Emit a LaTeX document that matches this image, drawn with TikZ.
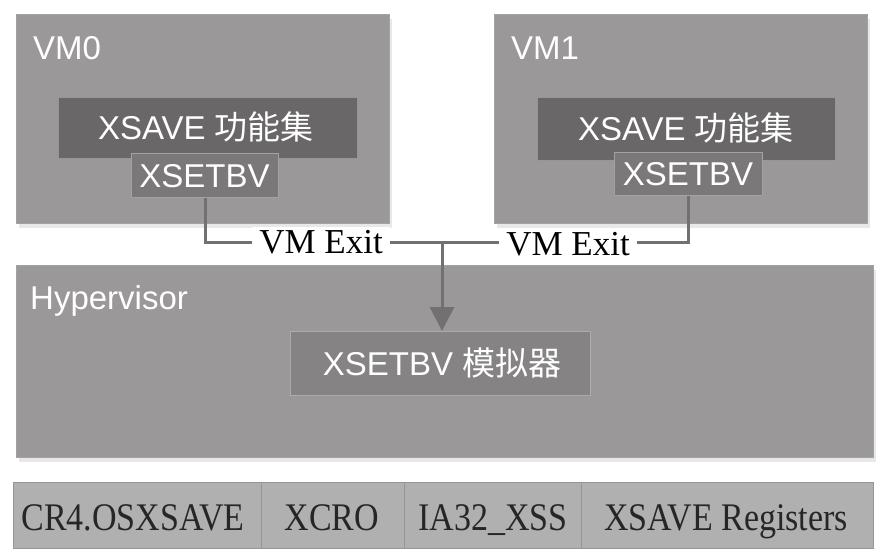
\documentclass[tikz,border=0pt]{standalone}
\usepackage{fontspec}
\setmainfont{Liberation Serif}
\newfontfamily\sansf{Liberation Sans}
\newfontfamily\cjkf{Noto Sans CJK SC}
\usetikzlibrary{arrows.meta,shadows}
\definecolor{vmgray}{HTML}{9A9899}
\definecolor{darkgray2}{HTML}{6A6768}
\definecolor{setgray}{HTML}{7A7879}
\definecolor{emugray}{HTML}{858384}
\definecolor{bargray}{HTML}{B0B0B0}
\definecolor{linegray}{HTML}{727071}
\definecolor{edgegray}{HTML}{A3A1A2}
\tikzset{
  outerbox/.style={fill=vmgray, draw=edgegray, line width=1pt, anchor=north west, inner sep=0pt,
    drop shadow={opacity=0.18, shadow xshift=2pt, shadow yshift=-4pt}},
  darkbox/.style={fill=darkgray2, draw=edgegray!80!darkgray2, line width=1pt, anchor=north west, inner sep=0pt},
  setbox/.style={fill=setgray, draw=edgegray, line width=1pt, anchor=north west, inner sep=0pt},
  emubox/.style={fill=emugray, draw=edgegray!90!white, line width=1.2pt, anchor=north west, inner sep=0pt},
  wtext/.style={text=white, font=\sansf\fontsize{33}{36}\selectfont, inner sep=0pt},
  exitlbl/.style={fill=white, text=black, font=\fontsize{35}{38}\selectfont, inner xsep=7pt, inner ysep=3pt},
  cell/.style={fill=bargray, draw=bargray!85!black, line width=0.8pt, anchor=north west, inner sep=0pt},
  celltext/.style={text=black!85, font=\fontsize{34}{38}\selectfont, inner sep=0pt, anchor=base},
  conn/.style={draw=linegray, line width=3pt},
}
\begin{document}
\begin{tikzpicture}[x=1pt, y=-1pt]
\useasboundingbox (0,0) rectangle (887,560);
% VM0
\node[outerbox, minimum width=373pt, minimum height=209pt] (vm0) at (16,14) {};
\node[wtext, anchor=west] (vm0l) at (33,48) {VM0};
\node[darkbox, minimum width=299pt, minimum height=61pt] (x0) at (58,97) {};
\node[wtext] (x0l) at (206,127) {XSAVE {\cjkf 功能集}};
\node[setbox, minimum width=147pt, minimum height=44pt] (s0) at (131,153) {};
\node[wtext] (s0l) at (204.5,176) {XSETBV};
% VM1
\node[outerbox, minimum width=373pt, minimum height=209pt] (vm1) at (494,14) {};
\node[wtext, anchor=west] (vm1l) at (511,48) {VM1};
\node[darkbox, minimum width=298pt, minimum height=63pt] (x1) at (537,97) {};
\node[wtext] (x1l) at (686,128) {XSAVE {\cjkf 功能集}};
\node[setbox, minimum width=148pt, minimum height=43pt] (s1) at (614,152) {};
\node[wtext] (s1l) at (688,174) {XSETBV};
% Hypervisor
\node[outerbox, minimum width=857pt, minimum height=192pt] (hv) at (16,265) {};
\node[wtext, anchor=west] (hvl) at (30,301) {Hypervisor};
\node[emubox, minimum width=300pt, minimum height=64pt] (emu) at (290,331) {};
\node[wtext] (emul) at (442,363) {XSETBV {\cjkf 模拟器}};
% connectors
\coordinate (j) at (442,242);
\draw[conn] (s0.south) |- (j);
\draw[conn] (s1.south) |- (j);
\draw[conn, -{Triangle[width=24pt,length=24pt]}] (j) -- (emu.north -| j);
\node[exitlbl] (e0) at (321,242) {VM Exit};
\node[exitlbl] (e1) at (568,244) {VM Exit};
% bottom bar
\node[cell, minimum width=248pt, minimum height=66pt] (c1) at (13,482) {};
\node[cell, minimum width=143pt, minimum height=66pt] (c2) at (261,482) {};
\node[cell, minimum width=177pt, minimum height=66pt] (c3) at (404,482) {};
\node[cell, minimum width=292pt, minimum height=66pt] (c4) at (581,482) {};
\node[celltext] (t1) at (133,530) {\scalebox{1}[1.15]{CR4.OSXSAVE}};
\node[celltext] (t2) at (332,530) {\scalebox{1}[1.15]{XCRO}};
\node[celltext] (t3) at (493,530) {\scalebox{1}[1.15]{IA32\_XSS}};
\node[celltext] (t4) at (726,530) {\scalebox{1}[1.15]{XSAVE Registers}};
\end{tikzpicture}
\end{document}
